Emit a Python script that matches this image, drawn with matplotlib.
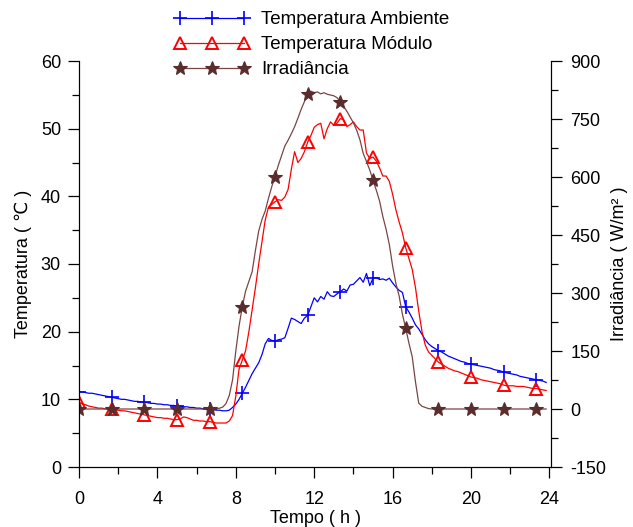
import numpy as np
import matplotlib
matplotlib.use('Agg')
import matplotlib.pyplot as plt
from matplotlib.ticker import MultipleLocator

plt.rcParams['font.family'] = ['Liberation Sans', 'DejaVu Sans']
plt.rcParams['axes.unicode_minus'] = False

# time in hours, one reading every 10 min (rows = one hour)
tempo = np.arange(144) / 6.0

temp_ambiente = [
    11.1, 11.1, 11.0, 10.9, 10.9, 10.8,
    10.7, 10.6, 10.5, 10.4, 10.3, 10.2,
    10.1, 10.0, 10.0, 9.9, 9.8, 9.7,
    9.7, 9.6, 9.6, 9.5, 9.4, 9.4,
    9.3, 9.3, 9.2, 9.2, 9.1, 9.1,
    9.0, 9.0, 8.9, 8.9, 8.8, 8.8,
    8.7, 8.7, 8.6, 8.6, 8.5, 8.5,
    8.4, 8.4, 8.3, 8.3, 8.4, 8.8,
    9.3, 10.0, 10.9, 11.8, 12.8, 13.8,
    14.6, 15.4, 16.6, 18.2, 19.0, 18.7,
    18.6, 18.8, 18.9, 19.1, 20.5, 22.0,
    21.8, 21.5, 21.2, 22.0, 22.4, 23.7,
    25.0, 24.4, 25.2, 24.8, 25.9, 25.3,
    25.2, 25.6, 25.9, 26.3, 26.0, 26.9,
    27.0, 27.5, 28.0, 27.3, 28.6, 26.8,
    27.9, 28.0, 27.7, 27.8, 27.6, 27.9,
    27.2, 26.6, 26.1, 25.8, 23.7, 22.9,
    22.0, 21.0, 20.4, 19.6, 18.8, 18.2,
    17.8, 17.5, 17.2, 17.0, 16.7, 16.4,
    16.2, 16.0, 15.8, 15.6, 15.5, 15.3,
    15.2, 15.1, 15.0, 14.9, 14.8, 14.7,
    14.6, 14.4, 14.3, 14.2, 14.0, 13.9,
    13.8, 13.7, 13.6, 13.4, 13.3, 13.2,
    13.1, 13.0, 12.9, 12.8, 12.7, 12.5,
]

temp_modulo = [
    9.6, 9.3, 9.2, 9.0, 8.9, 8.8,
    8.7, 8.7, 8.6, 8.5, 8.5, 8.4,
    8.4, 8.3, 8.3, 8.2, 8.1, 8.0,
    7.9, 7.8, 7.7, 7.6, 7.5, 7.4,
    7.3, 7.3, 7.2, 7.2, 7.1, 7.0,
    7.0, 7.1, 7.4, 7.3, 7.1, 6.9,
    6.9, 6.8, 6.8, 6.7, 6.7, 6.6,
    6.5, 6.5, 6.5, 6.5, 6.8, 7.6,
    10.5, 14.5, 15.8, 17.2, 20.0, 23.2,
    26.5, 30.0, 33.2, 36.5, 38.4, 38.8,
    39.2, 39.5, 39.4, 39.9, 41.0, 44.0,
    46.6, 45.0, 45.6, 46.6, 48.0, 49.0,
    50.2, 50.6, 50.8, 48.5, 50.0, 51.0,
    50.5, 50.8, 51.5, 51.3, 50.3, 50.6,
    51.0, 50.3, 49.8, 49.8, 46.4, 45.6,
    45.8, 45.2, 44.2, 43.0, 43.0, 42.2,
    40.3, 38.0, 36.2, 34.6, 32.4, 30.8,
    29.2, 26.5, 23.0, 20.0, 18.0, 17.0,
    16.5, 16.0, 15.5, 15.2, 14.9, 14.6,
    14.4, 14.2, 14.1, 13.9, 13.7, 13.5,
    13.3, 13.2, 13.1, 12.9, 12.8, 12.7,
    12.6, 12.5, 12.4, 12.3, 12.1, 12.0,
    12.0, 12.0, 11.9, 11.9, 11.9, 11.8,
    11.7, 11.6, 11.6, 11.5, 11.4, 11.3,
]

irradiancia = [
    0, 0, 0, 0, 0, 0,
    0, 0, 0, 0, 0, 0,
    0, 0, 0, 0, 0, 0,
    0, 0, 0, 0, 0, 0,
    0, 0, 0, 0, 0, 0,
    0, 0, 0, 0, 0, 0,
    0, 0, 0, 0, 0, 0,
    1, 2, 5, 14, 35, 75,
    150, 215, 265, 305, 330, 355,
    410, 460, 490, 512, 545, 575,
    601, 630, 655, 680, 695, 712,
    730, 752, 775, 795, 815, 822,
    818, 820, 815, 818, 814, 812,
    810, 805, 795, 783, 770, 755,
    740, 721, 696, 661, 640, 618,
    592, 566, 538, 498, 465, 425,
    370, 325, 292, 245, 209, 170,
    135, 70, 15, 7, 4, 1,
    0, 0, 0, 0, 0, 0,
    0, 0, 0, 0, 0, 0,
    0, 0, 0, 0, 0, 0,
    0, 0, 0, 0, 0, 0,
    0, 0, 0, 0, 0, 0,
    0, 0, 0, 0, 0, 0,
]

fig = plt.figure(figsize=(6.33, 5.27), dpi=100)
ax = fig.add_axes([79 / 633, 1 - 467 / 527, (551 - 79) / 633, (467 - 61) / 527])
ax2 = ax.twinx()

l1, = ax.plot(tempo, temp_ambiente, color='#0000ff', lw=0.9, marker='+', ms=10, mew=1.2,
              markevery=10, label='Temperatura Ambiente')
l2, = ax.plot(tempo, temp_modulo, color='#ff0000', lw=0.9, marker='^', ms=8.5, mew=1.4,
              mfc='none', markevery=10, label='Temperatura Módulo')
l3, = ax2.plot(tempo, irradiancia, color='#7a4545', lw=0.9, marker='*', ms=10, mew=0.8,
               mfc='#5a2c2c', mec='#5a2c2c', markevery=10, label='Irradiância')

ax.set_xlim(0, 24.08)
ax.set_ylim(0, 60)
ax2.set_ylim(-150, 900)

ax.xaxis.set_major_locator(MultipleLocator(4))
ax.xaxis.set_minor_locator(MultipleLocator(2))
ax.yaxis.set_major_locator(MultipleLocator(10))
ax.yaxis.set_minor_locator(MultipleLocator(5))
ax2.yaxis.set_major_locator(MultipleLocator(150))
ax2.yaxis.set_minor_locator(MultipleLocator(75))

for a in (ax, ax2):
    a.spines['top'].set_visible(False)
    a.tick_params(which='major', direction='out', length=8, width=0.9, labelsize=13)
    a.tick_params(which='minor', direction='out', length=5, width=0.9)
ax.tick_params(axis='y', pad=5)
ax.tick_params(axis='x', pad=9)
ax2.tick_params(axis='y', pad=6)

ax.set_xlabel('Tempo ( h )', fontsize=13, labelpad=1.5)
ax.set_ylabel('Temperatura ( ℃ )', fontsize=13, labelpad=6)
ax2.set_ylabel('Irradiância ( W/m² )', fontsize=13, labelpad=3)

fig.legend(handles=[l1, l2, l3], loc='upper left', bbox_to_anchor=(174 / 633, 1 - 11 / 527),
           frameon=False, fontsize=13.5, numpoints=3, handlelength=4.05,
           handletextpad=0.6, labelspacing=0.42, borderpad=0, borderaxespad=0)

fig.savefig('out.png', dpi=100)
